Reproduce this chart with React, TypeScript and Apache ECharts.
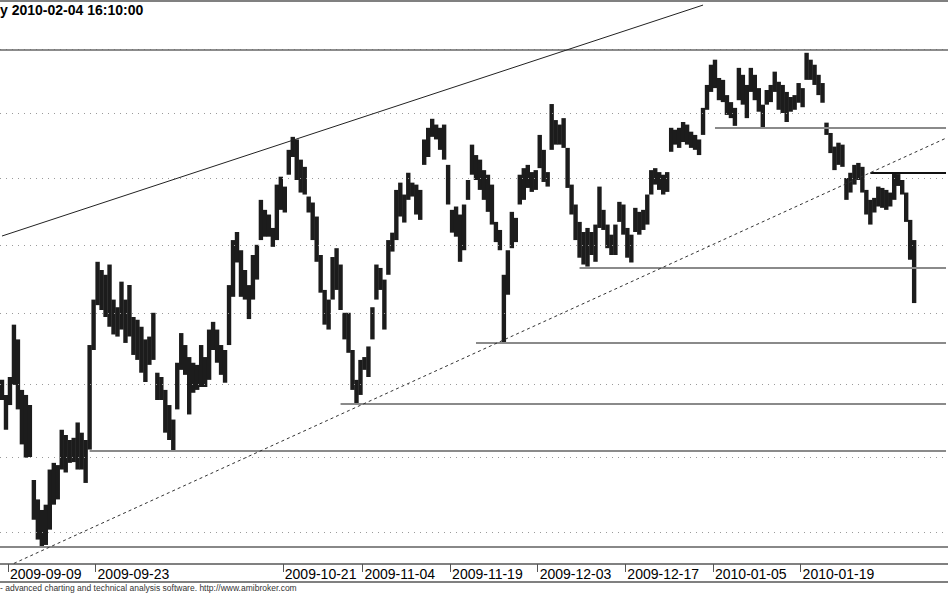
import React, { useEffect, useRef } from "react";
import * as echarts from "echarts";

// bar highs / lows (price, 10-minute bars aggregated into slots)
const highs = [
  3.406, 3.385, 3.410, 3.484, 3.463, 3.392, 3.385, 3.371, 3.269, 3.243,
  3.229, 3.236, 3.283, 3.292, 3.289, 3.337, 3.330, 3.323, 3.326, 3.347,
  3.333, 3.323, 3.455, 3.520, 3.575, 3.563, 3.556, 3.571, 3.520, 3.509,
  3.546, 3.520, 3.541, 3.495, 3.491, 3.481, 3.463, 3.467, 3.501, 3.416,
  3.410, 3.392, 3.371, 3.351, 3.430, 3.472, 3.455, 3.438, 3.430, 3.427,
  3.455, 3.438, 3.477, 3.488, 3.477, 3.455, 3.448, 3.541, 3.607, 3.619,
  3.592, 3.563, 3.541, 3.585, 3.600, 3.667, 3.652, 3.645, 3.625, 3.690,
  3.702, 3.687, 3.743, 3.763, 3.759, 3.728, 3.717, 3.672, 3.663, 3.642,
  3.585, 3.534, 3.520, 3.582, 3.595, 3.571, 3.501, 3.501, 3.448, 3.406,
  3.434, 3.438, 3.453, 3.509, 3.571, 3.566, 3.549, 3.607, 3.618, 3.682,
  3.693, 3.675, 3.708, 3.693, 3.690, 3.682, 3.759, 3.777, 3.791, 3.782,
  3.777, 3.782, 3.720, 3.652, 3.657, 3.645, 3.660, 3.697, 3.751, 3.735,
  3.728, 3.712, 3.705, 3.690, 3.634, 3.622, 3.556, 3.592, 3.649, 3.640,
  3.705, 3.715, 3.720, 3.709, 3.712, 3.766, 3.743, 3.709, 3.814, 3.789,
  3.782, 3.792, 3.746, 3.690, 3.660, 3.634, 3.619, 3.625, 3.619, 3.630,
  3.687, 3.652, 3.630, 3.615, 3.630, 3.664, 3.660, 3.625, 3.615, 3.655,
  3.649, 3.652, 3.675, 3.712, 3.715, 3.709, 3.705, 3.709, 3.777, 3.774,
  3.777, 3.786, 3.782, 3.771, 3.766, 3.759, 3.808, 3.844, 3.876, 3.884,
  3.855, 3.852, 3.828, 3.817, 3.808, 3.871, 3.860, 3.844, 3.871, 3.860,
  3.839, 3.813, 3.836, 3.844, 3.865, 3.849, 3.844, 3.833, 3.825, 3.828,
  3.847, 3.839, 3.895, 3.884, 3.876, 3.860, 3.847, 3.785, 3.769, 3.748,
  3.754, 3.751, 3.700, 3.708, 3.720, 3.723, 3.717, 3.682, 3.667, 3.670,
  3.687, 3.685, 3.682, 3.678, 3.708, 3.706, 3.697, 3.678, 3.637, 3.607,
];
const lows = [
  3.378, 3.337, 3.371, 3.399, 3.365, 3.317, 3.299, 3.300, 3.216, 3.190,
  3.181, 3.183, 3.203, 3.236, 3.243, 3.283, 3.279, 3.292, 3.293, 3.283,
  3.283, 3.265, 3.310, 3.448, 3.512, 3.505, 3.495, 3.481, 3.470, 3.467,
  3.477, 3.458, 3.467, 3.441, 3.434, 3.416, 3.403, 3.427, 3.434, 3.378,
  3.378, 3.333, 3.323, 3.307, 3.365, 3.420, 3.413, 3.358, 3.388, 3.392,
  3.396, 3.396, 3.406, 3.448, 3.430, 3.413, 3.402, 3.455, 3.524, 3.574,
  3.524, 3.520, 3.492, 3.520, 3.549, 3.607, 3.612, 3.612, 3.597, 3.607,
  3.652, 3.648, 3.705, 3.732, 3.697, 3.678, 3.675, 3.648, 3.607, 3.575,
  3.530, 3.484, 3.477, 3.520, 3.534, 3.505, 3.463, 3.444, 3.392, 3.373,
  3.385, 3.420, 3.410, 3.463, 3.520, 3.534, 3.477, 3.556, 3.590, 3.607,
  3.642, 3.633, 3.667, 3.672, 3.645, 3.637, 3.720, 3.732, 3.763, 3.759,
  3.743, 3.728, 3.660, 3.618, 3.612, 3.575, 3.592, 3.667, 3.705, 3.697,
  3.682, 3.667, 3.649, 3.630, 3.604, 3.592, 3.458, 3.527, 3.595, 3.604,
  3.660, 3.667, 3.685, 3.679, 3.682, 3.715, 3.694, 3.687, 3.743, 3.751,
  3.751, 3.746, 3.685, 3.645, 3.607, 3.581, 3.571, 3.568, 3.585, 3.575,
  3.625, 3.622, 3.595, 3.585, 3.585, 3.634, 3.615, 3.581, 3.574, 3.619,
  3.615, 3.622, 3.630, 3.675, 3.690, 3.682, 3.675, 3.679, 3.740, 3.751,
  3.746, 3.755, 3.751, 3.746, 3.743, 3.735, 3.766, 3.805, 3.833, 3.839,
  3.820, 3.817, 3.797, 3.792, 3.780, 3.820, 3.813, 3.792, 3.833, 3.820,
  3.802, 3.777, 3.813, 3.817, 3.833, 3.805, 3.800, 3.786, 3.802, 3.805,
  3.816, 3.809, 3.852, 3.852, 3.844, 3.828, 3.816, 3.766, 3.738, 3.712,
  3.720, 3.717, 3.667, 3.678, 3.690, 3.697, 3.678, 3.645, 3.630, 3.648,
  3.657, 3.655, 3.652, 3.657, 3.667, 3.688, 3.675, 3.634, 3.578, 3.515,
];

const SLOTS = 238;
const tickLabels = [
  "2009-09-09", "2009-09-23", "2009-10-21", "2009-11-04", "2009-11-19",
  "2009-12-03", "2009-12-17", "2010-01-05", "2010-01-19",
];
const tickSlots = [2, 24, 71, 91, 113, 135, 157, 179, 201];

const gridLevels = [3.2, 3.3, 3.4, 3.5, 3.6, 3.7, 3.8, 3.9];
const fullLevels = [3.896, 3.182];
const supportLevels = [3.308, 3.373, 3.458, 3.566, 3.777, 3.708];
const supportStarts = [22, 85, 119, 145, 179, 218];
const upperTrend = [[0, 3.613], [176, 3.972]];
const lowerTrend = [[3, 3.159], [237, 3.761]];

const titleText = "y 2010-02-04 16:10:00";
const footText = "- advanced charting and technical analysis software. http://www.amibroker.com";

const FONT = '"Liberation Sans", Arial, sans-serif';

export default function App() {
  const ref = useRef<HTMLDivElement>(null);
  useEffect(() => {
    if (!ref.current) return;
    const chart = echarts.init(ref.current, null, { renderer: "svg" });
    const categories = Array.from({ length: SLOTS }, (_, i) => String(i));
    const isTick = (idx: number) => tickSlots.indexOf(idx) >= 0;

    const markData: any[] = [];
    gridLevels.forEach((v) =>
      markData.push({ yAxis: v, lineStyle: { color: "#9a9a9a", width: 1, type: [1, 5] } })
    );
    markData.push({ yAxis: fullLevels[0], lineStyle: { color: "#666", width: 1.5, type: "solid" } });
    markData.push({ yAxis: fullLevels[1], lineStyle: { color: "#888", width: 2, type: "solid" } });
    supportLevels.forEach((v, k) =>
      markData.push([
        { coord: [supportStarts[k], v], lineStyle: { color: k === 5 ? "#111" : "#8a8a8a", width: 2, type: "solid" } },
        { coord: [SLOTS - 1, v] },
      ])
    );
    markData.push([
      { coord: upperTrend[0], lineStyle: { color: "#222", width: 1, type: "solid" } },
      { coord: upperTrend[1] },
    ]);
    markData.push([
      { coord: lowerTrend[0], lineStyle: { color: "#333", width: 1, type: [3, 3] } },
      { coord: lowerTrend[1] },
    ]);

    chart.setOption({
      animation: false,
      backgroundColor: "#fff",
      grid: { left: 0, right: -4, top: 4, height: 560 },
      xAxis: {
        type: "category",
        data: categories,
        boundaryGap: true,
        axisLine: { show: true, lineStyle: { color: "#808080", width: 2 } },
        axisTick: {
          show: true,
          interval: (idx: number) => isTick(idx),
          length: 8,
          lineStyle: { color: "#555", width: 1 },
        },
        axisLabel: {
          show: true,
          interval: (idx: number) => isTick(idx),
          formatter: (_v: string, idx: number) => tickLabels[tickSlots.indexOf(idx)] || "",
          align: "left",
          margin: 3,
          fontSize: 14,
          fontFamily: FONT,
          color: "#000",
        },
        splitLine: { show: false },
      },
      yAxis: {
        type: "log",
        logBase: 10,
        min: 3.15822,
        max: 3.97375,
        show: false,
        splitLine: { show: false },
      },
      series: [
        {
          type: "custom",
          clip: false,
          data: highs.map((h, i) => [i, h, lows[i]]),
          encode: { x: 0, y: [1, 2] },
          renderItem: (params: any, api: any) => {
            const i = api.value(0);
            const top = api.coord([i, api.value(1)]);
            const bot = api.coord([i, api.value(2)]);
            return {
              type: "rect",
              shape: { x: top[0] - 2.2, y: top[1], width: 4.4, height: Math.max(1, bot[1] - top[1]) },
              style: { fill: "#1c1c1c" },
            };
          },
          markLine: {
            silent: true,
            symbol: ["none", "none"],
            label: { show: false },
            data: markData,
          },
        },
      ],
      graphic: [
        { type: "line", shape: { x1: 0, y1: 1, x2: 948, y2: 1 }, style: { stroke: "#808080", lineWidth: 2 } },
        { type: "line", shape: { x1: 0, y1: 582, x2: 948, y2: 582 }, style: { stroke: "#808080", lineWidth: 2 } },
        {
          type: "text",
          left: 0,
          top: 3,
          style: { text: titleText, font: `bold 14px ${FONT}`, fill: "#000" },
        },
        {
          type: "text",
          left: 0,
          top: 583,
          style: { text: footText, font: `8.5px ${FONT}`, fill: "#333" },
        },
      ],
    });
    return () => chart.dispose();
  }, []);
  return (
    <div
      ref={ref}
      style={{ position: "fixed", left: 0, top: 0, width: 948, height: 593, background: "#fff" }}
    />
  );
}
